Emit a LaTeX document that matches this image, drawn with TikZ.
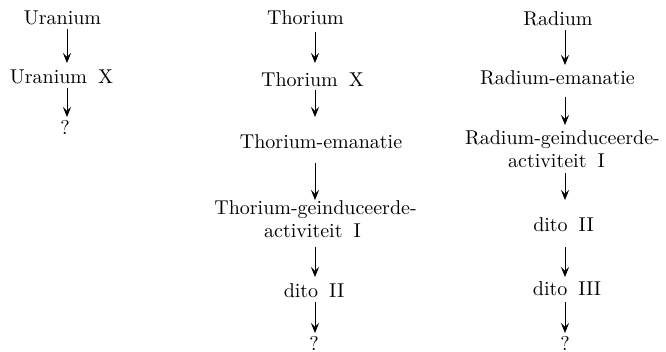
\documentclass[tikz,border=0pt]{standalone}
\usetikzlibrary{arrows.meta,calc}
\newcommand{\wsp}{\hskip0.55em\relax}
\begin{document}
\begin{tikzpicture}[x=0.5pt,y=-0.5pt,
  lbl/.style={inner sep=0pt,anchor=base,font=\fontsize{10}{11.5}\selectfont},
  arr/.style={line width=0.4pt,-{Stealth[length=5pt,width=4pt,inset=2pt]}}]
\useasboundingbox (0,0) rectangle (666,352);
% column axes
\coordinate (c1) at (67,0);
\coordinate (c2) at (315,0);
\coordinate (c3) at (565,0);
% Uranium column
\node[lbl] (U)  at (62.5,25) {Uranium};
\node[lbl] (UX) at (61.5,84) {Uranium\wsp X};
\node[lbl] (Uq) at (65,135) {?};
% Thorium column
\node[lbl] (T)   at (305.5,25) {Thorium};
\node[lbl] (TX)  at (312.5,87) {Thorium\wsp X};
\node[lbl] (TE)  at (321,149) {Thorium-emanatie};
\node[lbl] (TG1) at (315.5,215) {Thorium-geinduceerde-};
\node[lbl] (TG2) at (312.5,238) {activiteit\wsp I};
\node[lbl] (TD)  at (314,298) {dito\wsp II};
\node[lbl] (Tq)  at (314,351) {?};
% Radium column
\node[lbl] (R)   at (558,26) {Radium};
\node[lbl] (RE)  at (557.5,85) {Radium-emanatie};
\node[lbl] (RG1) at (562.5,145) {Radium-geinduceerde-};
\node[lbl] (RG2) at (556.5,168) {activiteit\wsp I};
\node[lbl] (RD2) at (563.5,232) {dito\wsp II};
\node[lbl] (RD3) at (567,296) {dito\wsp III};
\node[lbl] (Rq)  at (565,351) {?};
% arrows
\draw[arr] ($(U.base -| c1)+(0,4)$) -- ($(UX.base -| c1)+(0,-21)$);
\draw[arr] ($(UX.base -| c1)+(0,4)$) -- ($(Uq.base -| c1)+(0,-18)$);
\draw[arr] ($(T.base -| c2)+(0,7)$) -- ($(TX.base -| c2)+(0,-24)$);
\draw[arr] ($(TX.base -| c2)+(0,3)$) -- ($(TE.base -| c2)+(0,-32)$);
\draw[arr] ($(TE.base -| c2)+(0,14)$) -- ($(TG1.base -| c2)+(0,-15)$);
\draw[arr] ($(TG2.base -| c2)+(0,9)$) -- ($(TD.base -| c2)+(0,-21)$);
\draw[arr] ($(TD.base -| c2)+(0,4)$) -- ($(Tq.base -| c2)+(0,-18)$);
\draw[arr] ($(R.base -| c3)+(0,4)$) -- ($(RE.base -| c3)+(0,-20)$);
\draw[arr] ($(RE.base -| c3)+(0,12)$) -- ($(RG1.base -| c3)+(0,-20)$);
\draw[arr] ($(RG2.base -| c3)+(0,5)$) -- ($(RD2.base -| c3)+(0,-32)$);
\draw[arr] ($(RD2.base -| c3)+(0,15)$) -- ($(RD3.base -| c3)+(0,-19)$);
\draw[arr] ($(RD3.base -| c3)+(0,6)$) -- ($(Rq.base -| c3)+(0,-18)$);
\end{tikzpicture}
\end{document}
